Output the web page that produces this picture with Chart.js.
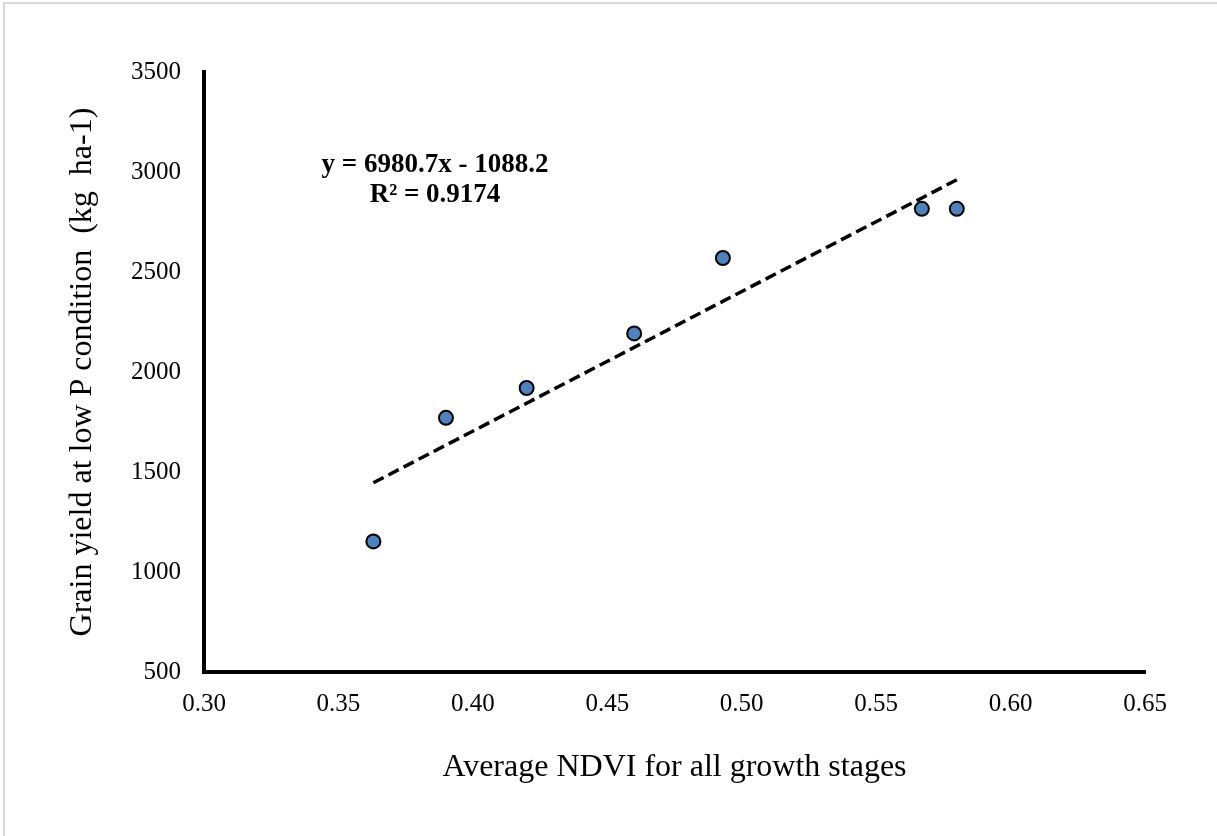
<!DOCTYPE html>
<html>
<head>
<meta charset="utf-8">
<script src="https://cdn.jsdelivr.net/npm/chart.js@4/dist/chart.umd.min.js"></script>
<style>
  html, body { margin: 0; padding: 0; background: #fff; overflow: hidden; }
  #wrap { position: relative; width: 1217px; height: 836px; }
  #frame { position: absolute; left: 3px; top: 2px; width: 1300px; height: 900px;
           border-top: 2px solid #d9d9d9; border-left: 2px solid #d9d9d9; }
  canvas { position: absolute; left: 0; top: 0; }
</style>
</head>
<body>
<div id="wrap">
  <div id="frame"></div>
  <canvas id="chart" width="1217" height="836"></canvas>
</div>
<script>
// NDVI vs grain yield data
const ndvi = [0.363, 0.390, 0.420, 0.460, 0.493, 0.567, 0.580];
const grainYield = [1153, 1771, 1920, 2193, 2570, 2816, 2816];

// Linear trendline endpoints
const trendX = [0.363, 0.580];
const trendY = [1446, 2961];

const xTicks = [0.30, 0.35, 0.40, 0.45, 0.50, 0.55, 0.60, 0.65];
const yTicks = [500, 1000, 1500, 2000, 2500, 3000, 3500];

const equationLines = ['y = 6980.7x - 1088.2', 'R² = 0.9174'];

const serif = "'Liberation Serif', 'Times New Roman', serif";

// Equation label drawn on top of the chart
const equationPlugin = {
    id: 'equation',
    afterDraw(chart) {
        const ctx = chart.ctx;
        ctx.save();
        ctx.font = 'bold 27px ' + serif;
        ctx.fillStyle = '#000';
        ctx.textAlign = 'center';
        ctx.textBaseline = 'middle';
        ctx.fillText(equationLines[0], 435, 165);
        ctx.fillText(equationLines[1], 435, 195);
        ctx.restore();
    }
};

const ctx = document.getElementById('chart').getContext('2d');

new Chart(ctx, {
    type: 'scatter',
    data: {
        datasets: [
            {
                label: 'Grain yield',
                data: ndvi.map((x, i) => ({ x: x, y: grainYield[i] })),
                backgroundColor: '#4f81bd',
                borderColor: '#000',
                borderWidth: 2,
                pointRadius: 7,
                order: 2
            },
            {
                label: 'Linear',
                type: 'line',
                data: trendX.map((x, i) => ({ x: x, y: trendY[i] })),
                borderColor: '#000',
                borderWidth: 3.5,
                borderDash: [11.5, 5.5],
                pointRadius: 0,
                fill: false,
                order: 1
            }
        ]
    },
    options: {
        responsive: false,
        animation: false,
        layout: {
            padding: { top: 72, right: 72, bottom: 0, left: 0 }
        },
        plugins: {
            legend: { display: false },
            tooltip: { enabled: false }
        },
        scales: {
            x: {
                type: 'linear',
                min: 0.30,
                max: 0.65,
                afterBuildTicks: (scale) => { scale.ticks = xTicks.map(v => ({ value: v })); },
                afterFit: (scale) => { scale.height = 164; },
                grid: { display: false, drawTicks: false },
                border: { display: true, color: '#000', width: 4 },
                ticks: {
                    color: '#000',
                    padding: 17,
                    font: { family: serif, size: 25 },
                    callback: (v) => Number(v).toFixed(2)
                },
                title: {
                    display: true,
                    text: 'Average NDVI for all growth stages',
                    color: '#000',
                    padding: 49,
                    font: { family: serif, size: 32 }
                }
            },
            y: {
                min: 500,
                max: 3500,
                afterBuildTicks: (scale) => { scale.ticks = yTicks.map(v => ({ value: v })); },
                afterFit: (scale) => { scale.width = 204; },
                grid: { display: false, drawTicks: false },
                border: { display: true, color: '#000', width: 4 },
                ticks: {
                    color: '#000',
                    padding: 23,
                    font: { family: serif, size: 25 },
                    callback: (v) => String(v)
                },
                title: {
                    display: true,
                    text: 'Grain yield at low P condition  (kg  ha-1)',
                    color: '#000',
                    padding: 63,
                    font: { family: serif, size: 32 }
                }
            }
        }
    },
    plugins: [equationPlugin]
});
</script>
</body>
</html>
